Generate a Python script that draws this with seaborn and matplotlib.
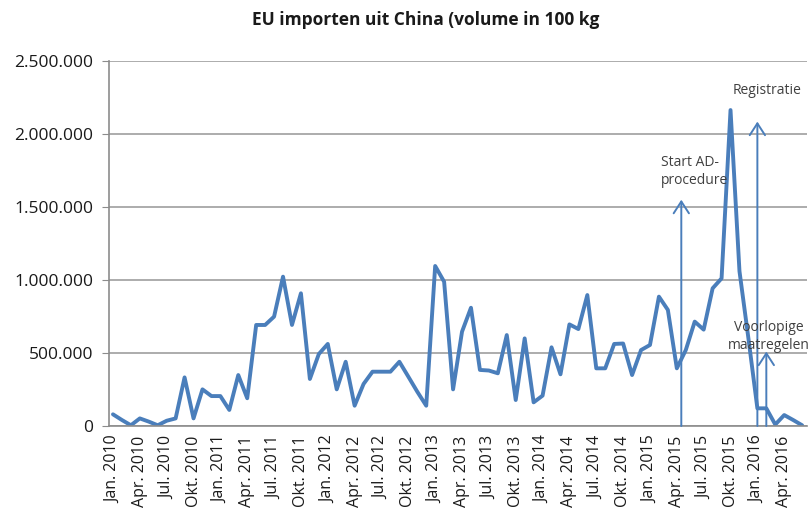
import matplotlib
matplotlib.use('Agg')
import pandas as pd
import matplotlib.pyplot as plt
import seaborn as sns

#======================================================================================
# Data (monthly EU imports from China, volume in 100 kg, Jan 2010 - Jun 2016)
years        = list(range(2010, 2017))
monthNames   = ['Jan.', 'Feb.', 'Mrt.', 'Apr.', 'Mei', 'Jun.',
                'Jul.', 'Aug.', 'Sep.', 'Okt.', 'Nov.', 'Dec.']
quarterNames = ['Jan.', 'Apr.', 'Jul.', 'Okt.']

volume = [80000, 41000, 5000, 52000, 30000, 5000, 36000, 52000, 333000, 52000,
          251000, 205000, 205000, 110000, 349000, 190000, 692000, 692000, 749000, 1023000,
          692000, 909000, 322000, 493000, 562000, 251000, 440000, 139000, 288000, 372000,
          372000, 372000, 440000, 338000, 235000, 139000, 1096000, 988000, 251000, 646000,
          810000, 384000, 380000, 361000, 623000, 178000, 600000, 162000, 208000, 539000,
          354000, 696000, 664000, 897000, 395000, 395000, 562000, 565000, 349000, 520000,
          555000, 886000, 795000, 395000, 520000, 715000, 660000, 943000, 1011000, 2164000,
          1060000, 600000, 121000, 121000, 10000, 75000, 41000, 5000]

months = [f'{m} {y}' for y in years for m in monthNames][:len(volume)]
tickLabels = [f'{m} {y}' for y in years for m in quarterNames][:26]

# Events (month position, arrow top, label)
eventPos    = [63.5, 72, 73]
eventTop    = [1550000, 2085000, 510000]
eventLabels = ['Start AD-\nprocedure', 'Registratie', 'Voorlopige\nmaatregelen']
eventTextX  = [61.2, 69.2, 73.3]
eventTextY  = [1745000, 2300000, 615000]
eventAlign  = ['left', 'left', 'center']
#======================================================================================

df = pd.DataFrame({'pos': range(len(volume)), 'month': months, 'volume': volume})

sns.set_style('white')
plt.rcParams['font.family'] = ['Open Sans', 'DejaVu Sans']

fig = plt.figure(figsize=(8.11, 5.17), dpi=100)
ax = fig.add_axes([108.5 / 811, 1 - 426 / 517, (806.6 - 108.5) / 811, (426 - 61) / 517])

lineColor = '#4a7ebb'
sns.lineplot(data=df, x='pos', y='volume', ax=ax, color=lineColor, linewidth=2.8)

# arrows + labels
for pos, top, lab, tx, ty, ha in zip(eventPos, eventTop, eventLabels, eventTextX, eventTextY, eventAlign):
    ax.annotate('', xy=(pos, top), xytext=(pos, 0),
                arrowprops=dict(arrowstyle='->,head_length=0.85,head_width=0.55',
                                color=lineColor, lw=1.4, shrinkA=0, shrinkB=0))
    ax.text(tx, ty, lab, ha=ha, va='center', fontsize=10, color='#404040',
            linespacing=1.3)

ax.set_xlim(-0.5, len(volume) - 0.5)
ax.set_ylim(0, 2500000)
ax.set_yticks(range(0, 2500001, 500000))
ax.set_yticklabels([f'{v:,}'.replace(',', '.') for v in range(0, 2500001, 500000)],
                   fontsize=12.5, color='#1a1a1a')
ax.yaxis.grid(True, color='#a6a6a6', linewidth=1.3)
ax.set_axisbelow(True)

ax.set_xticks(range(0, 3 * len(tickLabels), 3))
ax.set_xticklabels(tickLabels, rotation=90, fontsize=11.5, color='#1a1a1a')
ax.set_xticks([i - 0.5 for i in range(len(volume) + 1)], minor=True)
ax.tick_params(axis='x', which='major', length=0, pad=7)
ax.tick_params(axis='x', which='minor', length=5, color='#8c8c8c', width=1)
ax.tick_params(axis='y', length=5, color='#8c8c8c', direction='out', pad=6)
ax.yaxis.set_tick_params(which='major', left=True)

for s in ['top', 'right']:
    ax.spines[s].set_visible(False)
for s in ['left', 'bottom']:
    ax.spines[s].set_color('#8c8c8c')
    ax.spines[s].set_linewidth(1.2)

ax.set_xlabel('')
ax.set_ylabel('')

fig.text(0.525, 0.962, 'EU importen uit China (volume in 100 kg', ha='center', va='center',
         fontsize=12.5, fontweight='bold', color='#1a1a1a')

fig.savefig('out.png', dpi=100)
